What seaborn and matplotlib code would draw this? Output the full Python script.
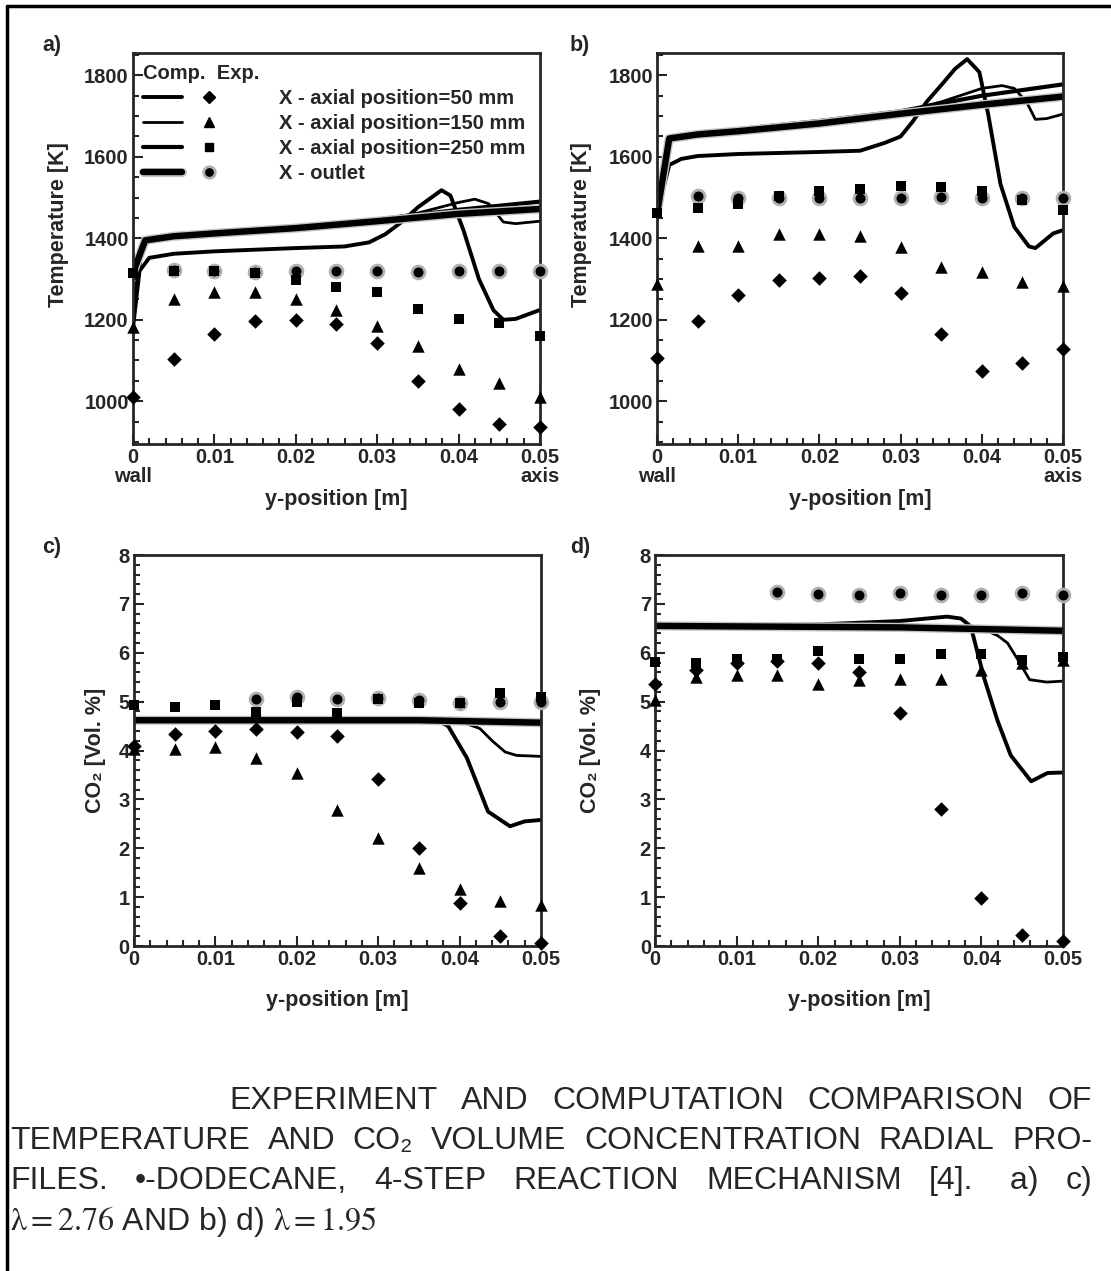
import matplotlib as mpl
import seaborn as sns
import numpy as np
import matplotlib.patheffects as pe
from matplotlib.lines import Line2D
from matplotlib.legend_handler import HandlerTuple
from matplotlib.ticker import MultipleLocator
plt = mpl.pyplot

# --- measured points (x = radial position in m) ---
X_EXP = [0, 0.005, 0.01, 0.015, 0.02, 0.025, 0.03, 0.035, 0.04, 0.045, 0.05]
X_OUT_T = [0.005, 0.01, 0.015, 0.02, 0.025, 0.03, 0.035, 0.04, 0.045, 0.05]
X_OUT_C = [0.015, 0.02, 0.025, 0.03, 0.035, 0.04, 0.045, 0.05]

# a) temperature, lambda = 2.76
A_EXP50 = [1011, 1103, 1164, 1196, 1200, 1189, 1142, 1049, 980, 945, 937]
A_EXP150 = [1181, 1252, 1268, 1268, 1250, 1223, 1185, 1135, 1080, 1045, 1011]
A_EXP250 = [1315, 1320, 1320, 1315, 1297, 1280, 1267, 1227, 1203, 1191, 1160]
A_EXPOUT = [1322, 1320, 1318, 1320, 1320, 1320, 1318, 1320, 1320, 1320]

# b) temperature, lambda = 1.95
B_EXP50 = [1105, 1198, 1261, 1297, 1303, 1307, 1265, 1166, 1073, 1095, 1128]
B_EXP150 = [1287, 1380, 1380, 1411, 1410, 1406, 1378, 1329, 1318, 1293, 1283]
B_EXP250 = [1461, 1474, 1485, 1505, 1517, 1521, 1529, 1525, 1517, 1493, 1469]
B_EXPOUT = [1503, 1500, 1500, 1500, 1500, 1500, 1502, 1500, 1498, 1500]

# c) CO2, lambda = 2.76
C_EXP50 = [4.1, 4.34, 4.4, 4.45, 4.38, 4.29, 3.41, 2.0, 0.88, 0.2, 0.06]
C_EXP150 = [4.03, 4.03, 4.07, 3.85, 3.54, 2.79, 2.2, 1.59, 1.17, 0.93, 0.84]
C_EXP250 = [4.94, 4.9, 4.93, 4.79, 5.0, 4.76, 5.05, 4.97, 4.98, 5.17, 5.1]
C_EXPOUT = [5.05, 5.09, 5.05, 5.07, 5.04, 4.97, 5.0, 5.0]

# d) CO2, lambda = 1.95
D_EXP50 = [5.37, 5.64, 5.8, 5.84, 5.8, 5.6, 4.76, 2.8, 0.98, 0.22, 0.1]
D_EXP150 = [5.03, 5.5, 5.54, 5.54, 5.37, 5.44, 5.47, 5.47, 5.64, 5.8, 5.85]
D_EXP250 = [5.82, 5.8, 5.87, 5.87, 6.03, 5.87, 5.87, 5.97, 5.97, 5.86, 5.92]
D_EXPOUT = [7.24, 7.2, 7.19, 7.23, 7.19, 7.19, 7.23, 7.19]

# --- computed profiles ---
A_X50 = [0, 0.0008, 0.002, 0.005, 0.01, 0.02, 0.026, 0.029, 0.031, 0.033, 0.035, 0.0379, 0.039, 0.0406, 0.0425, 0.0443, 0.0455, 0.047, 0.05]
A_Y50 = [1180, 1320, 1352, 1362, 1368, 1376, 1380, 1390, 1410, 1440, 1476, 1518, 1505, 1420, 1300, 1223, 1200, 1202, 1224]
A_X150 = [0, 0.0015, 0.005, 0.01, 0.02, 0.03, 0.035, 0.04, 0.042, 0.0437, 0.0455, 0.047, 0.05]
A_Y150 = [1250, 1398, 1405, 1412, 1425, 1445, 1462, 1488, 1496, 1485, 1440, 1436, 1442]
A_X250 = [0, 0.0015, 0.005, 0.01, 0.02, 0.03, 0.04, 0.05]
A_Y250 = [1315, 1398, 1408, 1415, 1428, 1446, 1470, 1490]
A_XOUT = [0, 0.0015, 0.005, 0.01, 0.02, 0.03, 0.04, 0.05]
A_YOUT = [1315, 1395, 1405, 1412, 1425, 1442, 1460, 1472]

B_X50 = [0, 0.0015, 0.003, 0.005, 0.01, 0.02, 0.025, 0.028, 0.03, 0.0315, 0.0332, 0.035, 0.0367, 0.0382, 0.0397, 0.0408, 0.0423, 0.044, 0.0458, 0.0466, 0.0488, 0.05]
B_Y50 = [1460, 1580, 1595, 1602, 1607, 1612, 1615, 1634, 1650, 1687, 1735, 1776, 1816, 1840, 1808, 1703, 1533, 1428, 1380, 1376, 1412, 1420]
B_X150 = [0, 0.0015, 0.005, 0.01, 0.02, 0.03, 0.035, 0.04, 0.0425, 0.044, 0.0455, 0.0466, 0.048, 0.05]
B_Y150 = [1460, 1645, 1655, 1665, 1685, 1710, 1735, 1768, 1775, 1768, 1735, 1692, 1694, 1705]
B_X250 = [0, 0.0015, 0.005, 0.01, 0.02, 0.03, 0.04, 0.05]
B_Y250 = [1460, 1648, 1658, 1668, 1688, 1712, 1750, 1778]
B_XOUT = [0, 0.0015, 0.005, 0.01, 0.02, 0.03, 0.04, 0.05]
B_YOUT = [1460, 1645, 1655, 1663, 1682, 1706, 1728, 1748]

C_X50 = [0, 0.02, 0.035, 0.037, 0.0386, 0.0409, 0.0435, 0.0462, 0.048, 0.05]
C_Y50 = [4.6, 4.62, 4.66, 4.64, 4.5, 3.85, 2.75, 2.45, 2.55, 2.58]
C_X150 = [0, 0.02, 0.035, 0.04, 0.0425, 0.044, 0.0456, 0.047, 0.05]
C_Y150 = [4.6, 4.62, 4.64, 4.6, 4.45, 4.2, 3.97, 3.9, 3.88]
C_X250 = [0, 0.035, 0.05]
C_Y250 = [4.6, 4.63, 4.56]
C_XOUT = [0, 0.035, 0.05]
C_YOUT = [4.62, 4.62, 4.57]

D_X50 = [0, 0.02, 0.03, 0.0358, 0.0375, 0.0387, 0.0403, 0.042, 0.0436, 0.0461, 0.0481, 0.05]
D_Y50 = [6.55, 6.58, 6.65, 6.74, 6.7, 6.54, 5.5, 4.6, 3.9, 3.37, 3.54, 3.55]
D_X150 = [0, 0.03, 0.04, 0.042, 0.0432, 0.0445, 0.0459, 0.048, 0.05]
D_Y150 = [6.55, 6.58, 6.5, 6.35, 6.2, 5.85, 5.45, 5.4, 5.42]
D_X250 = [0, 0.03, 0.05]
D_Y250 = [6.55, 6.55, 6.47]
D_XOUT = [0, 0.03, 0.05]
D_YOUT = [6.55, 6.52, 6.45]

LEGEND_LABELS = ['X - axial position=50 mm', 'X - axial position=150 mm',
                 'X - axial position=250 mm', 'X - outlet']

sns.set_style('ticks')
plt.rcParams['font.family'] = ['Liberation Sans', 'DejaVu Sans']

LW = {'50': 2.8, '150': 2.0, '250': 3.0, 'out': 4.6}
MK = {'50': ('D', 55), '150': ('^', 80), '250': ('s', 55), 'out': ('o', 85)}
HALO = [pe.Stroke(linewidth=LW['out'] + 2, foreground='#c4c4c4'), pe.Normal()]

fig = plt.figure(figsize=(11.11, 12.71), dpi=100)
W, H = 1111, 1271


def panel(rect, lines, exps, ylim, major, minor, ylabel, wall_axis, xpad, ylab_xy):
    ax = fig.add_axes(rect)
    for key, (xs, ys) in lines.items():
        kw = {'path_effects': HALO} if key == 'out' else {}
        sns.lineplot(x=xs, y=ys, ax=ax, color='black', lw=LW[key], sort=False,
                     estimator=None, zorder=2, **kw)
    for key, (xs, ys) in exps.items():
        m, s = MK[key]
        if key == 'out':
            sns.scatterplot(x=xs, y=ys, ax=ax, marker=m, s=s, color='black',
                            edgecolor='#b0b0b0', linewidth=2, zorder=3, clip_on=False)
        else:
            sns.scatterplot(x=xs, y=ys, ax=ax, marker=m, s=s, color='black',
                            linewidth=0, zorder=4, clip_on=False)
    ax.set_xlim(0, 0.05)
    ax.set_ylim(*ylim)
    ax.xaxis.set_minor_locator(MultipleLocator(0.002))
    ax.yaxis.set_major_locator(MultipleLocator(major))
    ax.yaxis.set_minor_locator(MultipleLocator(minor))
    xt = ['0', '0.01', '0.02', '0.03', '0.04', '0.05']
    if wall_axis:
        xt[0] = '0\nwall'
        xt[-1] = '0.05\naxis'
    ax.set_xticks([0, 0.01, 0.02, 0.03, 0.04, 0.05])
    ax.set_xticklabels(xt, linespacing=1.0, fontweight='bold')
    plt.setp(ax.get_yticklabels(), fontweight='bold')
    ax.tick_params(which='both', direction='in', labelsize=14.5, width=1.5)
    ax.tick_params(which='major', length=7, pad=3)
    ax.tick_params(which='minor', length=4)
    for sp in ax.spines.values():
        sp.set_linewidth(2)
    ax.set_xlabel('y-position [m]', fontsize=15.5, fontweight='bold', labelpad=xpad)
    ax.set_ylabel(ylabel, fontsize=15.5, fontweight='bold')
    ax.yaxis.set_label_coords(*ylab_xy)
    return ax


ax_a = panel([0.1197, 0.6507, 0.3663, 0.3076],
             {'50': (A_X50, A_Y50), '150': (A_X150, A_Y150), '250': (A_X250, A_Y250), 'out': (A_XOUT, A_YOUT)},
             {'out': (X_OUT_T, A_EXPOUT), '250': (X_EXP, A_EXP250), '150': (X_EXP, A_EXP150), '50': (X_EXP, A_EXP50)},
             (895, 1855), 200, 50, 'Temperature [K]', True, 2, (-0.157, 0.56))
ax_b = panel([0.5914, 0.6507, 0.3654, 0.3076],
             {'50': (B_X50, B_Y50), '150': (B_X150, B_Y150), '250': (B_X250, B_Y250), 'out': (B_XOUT, B_YOUT)},
             {'out': (X_OUT_T, B_EXPOUT), '250': (X_EXP, B_EXP250), '150': (X_EXP, B_EXP150), '50': (X_EXP, B_EXP50)},
             (895, 1855), 200, 50, 'Temperature [K]', True, 2, (-0.16, 0.56))
ax_c = panel([0.1206, 0.2557, 0.3663, 0.3076],
             {'50': (C_X50, C_Y50), '150': (C_X150, C_Y150), '250': (C_X250, C_Y250), 'out': (C_XOUT, C_YOUT)},
             {'out': (X_OUT_C, C_EXPOUT), '250': (X_EXP, C_EXP250), '150': (X_EXP, C_EXP150), '50': (X_EXP, C_EXP50)},
             (0, 8), 1, 0.2, 'CO\u2082 [Vol. %]', False, 15, (-0.069, 0.5))
ax_d = panel([0.5896, 0.2557, 0.3672, 0.3076],
             {'50': (D_X50, D_Y50), '150': (D_X150, D_Y150), '250': (D_X250, D_Y250), 'out': (D_XOUT, D_YOUT)},
             {'out': (X_OUT_C, D_EXPOUT), '250': (X_EXP, D_EXP250), '150': (X_EXP, D_EXP150), '50': (X_EXP, D_EXP50)},
             (0, 8), 1, 0.2, 'CO\u2082 [Vol. %]', False, 15, (-0.132, 0.5))

# legend: computed line + experimental marker per row
handles = []
for key in ['50', '150', '250', 'out']:
    m, s = MK[key]
    ln = Line2D([], [], color='black', lw=LW[key])
    if key == 'out':
        ln.set_path_effects(HALO)
        mk = Line2D([], [], color='black', marker=m, ls='none', ms=np.sqrt(s) * 0.9,
                    markeredgecolor='#b0b0b0', markeredgewidth=2)
    else:
        mk = Line2D([], [], color='black', marker=m, ls='none', ms=np.sqrt(s) * 0.85)
    handles.append((ln, mk))
ax_a.legend(handles, LEGEND_LABELS, handler_map={tuple: HandlerTuple(ndivide=None, pad=0.37)},
            title='Comp.  Exp.', title_fontproperties={'weight': 'bold', 'size': 14.5},
            prop={'weight': 'bold', 'size': 14.5},
            alignment='left', frameon=False, handlelength=4.25,
            handletextpad=2.5, labelspacing=0.3, borderpad=0, borderaxespad=0,
            loc='upper left', bbox_to_anchor=(0.025, 0.972))

for lab, (px, py) in zip(['a)', 'b)', 'c)', 'd)'], [(52, 45), (580, 45), (52, 548), (580, 548)]):
    fig.text(px / W, 1 - py / H, lab, fontsize=15.5, fontweight='bold', ha='center', va='center')

# page frame
fig.add_artist(Line2D([7 / W, 1], [1 - 6 / H, 1 - 6 / H], transform=fig.transFigure, color='black', lw=2.5))
fig.add_artist(Line2D([7 / W, 7 / W], [0, 1 - 6 / H], transform=fig.transFigure, color='black', lw=2.5))

# caption, justified like the printed page
CAP_FONT = dict(fontsize=23, fontweight='normal', family=['Liberation Sans Narrow', 'Liberation Sans', 'DejaVu Sans'],
                va='center', ha='left')
renderer = fig.canvas.get_renderer()


def justified(words, x0, x1, y):
    texts = [fig.text(0, 1 - y / H, w, **CAP_FONT) for w in words]
    widths = [t.get_window_extent(renderer).width for t in texts]
    gap = (x1 - x0 - sum(widths)) / (len(words) - 1)
    x = x0
    for t, w in zip(texts, widths):
        t.set_x(x / W)
        x += w + gap


justified(['EXPERIMENT', 'AND', 'COMPUTATION', 'COMPARISON', 'OF'], 229, 1092, 1101)
justified(['TEMPERATURE', 'AND', 'CO\u2082', 'VOLUME', 'CONCENTRATION', 'RADIAL', 'PRO-'], 10, 1092, 1141)
justified(['FILES.', '\u2022-DODECANE,', '4-STEP', 'REACTION', 'MECHANISM', '[4].', ' a)', 'c)'], 10, 1092, 1181)
fig.text(10 / W, 1 - 1222 / H, r'$\mathrm{\lambda = 2.76}$ AND b) d) $\mathrm{\lambda = 1.95}$',
         math_fontfamily='stix', **CAP_FONT)

fig.savefig('out.png', dpi=100)
